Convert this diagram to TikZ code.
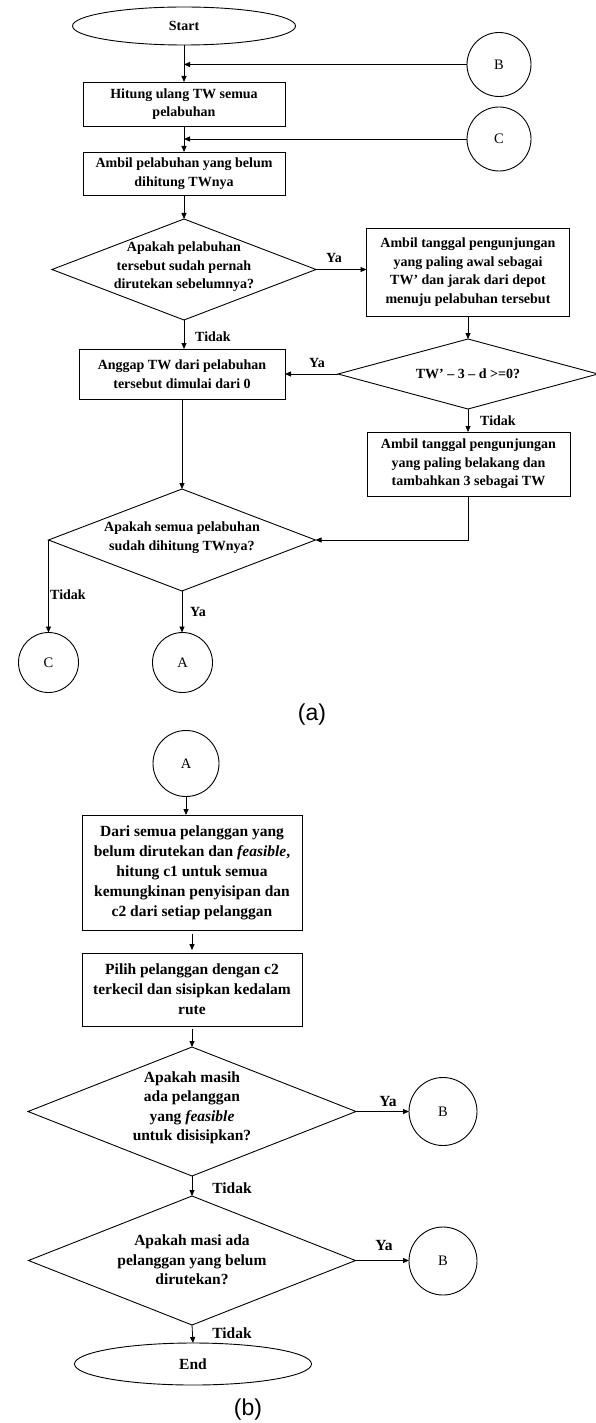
\documentclass[tikz,border=0pt]{standalone}
\usepackage{fontspec}
\setmainfont{Liberation Serif}
\newfontfamily\capfont{Liberation Sans}
\usetikzlibrary{shapes.geometric,arrows.meta}
\begin{document}
\begin{tikzpicture}[x=1pt,y=-1pt,
  every node/.style={inner sep=0pt, outer sep=0pt},
  arr/.style={line width=0.8pt,-{Triangle[length=6pt,width=5pt]}},
  box/.style={draw, line width=0.9pt, rectangle, align=center, font=\fontsize{14}{18.5}\selectfont\bfseries},
  boxb/.style={draw, line width=0.9pt, rectangle, align=center, font=\fontsize{15.5}{20}\selectfont\bfseries},
  dia/.style={draw, line width=0.9pt, diamond},
  dtext/.style={align=center, font=\fontsize{14}{18.5}\selectfont\bfseries},
  dtextb/.style={align=center, font=\fontsize{15.5}{19.5}\selectfont\bfseries},
  conn/.style={draw, line width=0.9pt, circle, font=\fontsize{14.5}{16}\selectfont},
  term/.style={draw, line width=0.9pt, ellipse},
  lab/.style={font=\fontsize{14}{16}\selectfont\bfseries},
  labb/.style={font=\fontsize{15.5}{18}\selectfont\bfseries},
  captxt/.style={font=\fontsize{23}{26}\selectfont\capfont},
]
\useasboundingbox (0,0) rectangle (596,1423);

% ---------- (a) ----------
\node[term, minimum width=223pt, minimum height=38pt, font=\fontsize{14}{16}\selectfont\bfseries] (start) at (184,26) {Start};
\node[conn, minimum size=64pt] (B1) at (499,64.5) {B};
\node[box, minimum width=202pt, minimum height=44pt] (hit) at (184,104) {Hitung ulang TW semua\\pelabuhan};
\node[conn, minimum size=64pt] (C1) at (499,139) {C};
\node[box, minimum width=202pt, minimum height=43pt] (amb) at (184,173.5) {Ambil pelabuhan yang belum\\dihitung TWnya};
\node[dia, minimum width=264pt, minimum height=101pt] (d1) at (184,269.5) {};
\node[dtext] (d1t) at (184,267) {Apakah pelabuhan\\tersebut sudah pernah\\dirutekan sebelumnya?};
\node[box, minimum width=203pt, minimum height=88pt] (tw) at (468,272) {Ambil tanggal pengunjungan\\yang paling awal sebagai\\TW’ dan jarak dari depot\\menuju pelabuhan tersebut};
\node[dia, minimum width=260pt, minimum height=70pt] (d2) at (468,374) {};
\node[dtext] (d2t) at (468,374) {TW’ – 3 – d >=0?};
\node[box, minimum width=206pt, minimum height=50pt] (ang) at (182,374) {Anggap TW dari pelabuhan\\tersebut dimulai dari 0};
\node[box, minimum width=203pt, minimum height=64pt] (bel) at (468.5,464) {Ambil tanggal pengunjungan\\yang paling belakang dan\\tambahkan 3 sebagai TW};
\node[dia, minimum width=267pt, minimum height=102pt] (d3) at (182,540) {};
\node[dtext] (d3t) at (182,537.5) {Apakah semua pelabuhan\\sudah dihitung TWnya?};
\node[conn, minimum size=60pt] (C2) at (48.5,662.5) {C};
\node[conn, minimum size=60pt] (A1) at (182.5,662.5) {A};
\node[captxt] (capa) at (312,715) {(a)};

\node[lab] (ya1) at (334,258) {Ya};
\node[lab] (ti1) at (213,337) {Tidak};
\node[lab] (ya2) at (317,363) {Ya};
\node[lab] (ti2) at (498,421) {Tidak};
\node[lab] (ti3) at (68,595) {Tidak};
\node[lab] (ya3) at (198,612) {Ya};

\draw[arr] (start.south) -- (hit.north);
\coordinate (jB) at (start.south |- B1.west);
\draw[arr] (B1.west) -- (jB);
\draw[arr] (hit.south) -- (amb.north);
\coordinate (jC) at (hit.south |- C1.west);
\draw[arr] (C1.west) -- (jC);
\draw[arr] (amb.south) -- (d1.north);
\draw[arr] (d1.east) -- (d1.east -| tw.west);
\draw[arr] (d1.south) -- (d1.south |- ang.north);
\draw[arr] (tw.south) -- (d2.north);
\draw[arr] (d2.west) -- (ang.east);
\draw[arr] (d2.south) -- (d2.south |- bel.north);
\draw[arr] (ang.south) -- (d3.north);
\draw[arr] (bel.south) |- (d3.east);
\draw[arr] (d3.west) -- (d3.west |- C2.north);
\draw[arr] (d3.south) -- (d3.south |- A1.north);

% ---------- (b) ----------
\node[conn, minimum size=66pt] (A2) at (186,763.5) {A};
\node[boxb, minimum width=220pt, minimum height=115pt] (dari) at (192,872.5) {Dari semua pelanggan yang\\belum dirutekan dan \textit{feasible},\\hitung c1 untuk semua\\kemungkinan penyisipan dan\\c2 dari setiap pelanggan};
\node[boxb, minimum width=220pt, minimum height=73pt] (pil) at (192,989.5) {Pilih pelanggan dengan c2\\terkecil dan sisipkan kedalam\\rute};
\node[dia, minimum width=328pt, minimum height=129pt] (d4) at (192,1111.5) {};
\node[dtextb] (d4t) at (192,1108) {Apakah masih\\ada pelanggan\\yang \textit{feasible}\\untuk disisipkan?};
\node[conn, minimum size=68pt] (B2) at (443,1111.5) {B};
\node[dia, minimum width=327pt, minimum height=129pt] (d5) at (192,1260.5) {};
\node[dtextb] (d5t) at (192,1260) {Apakah masi ada\\pelanggan yang belum\\dirutekan?};
\node[conn, minimum size=68pt] (B3) at (443,1261) {B};
\node[term, minimum width=237pt, minimum height=42pt, font=\fontsize{15.5}{18}\selectfont\bfseries] (end) at (193,1364) {End};
\node[captxt] (capb) at (248,1410) {(b)};

\node[labb] (ya4) at (388,1101) {Ya};
\node[labb] (ti4) at (232,1188) {Tidak};
\node[labb] (ya5) at (384,1245) {Ya};
\node[labb] (ti5) at (232,1333) {Tidak};

\draw[arr] (A2.south) -- (A2.south |- dari.north);
\draw[arr, shorten <=4pt, shorten >=3pt] (dari.south) -- (pil.north);
\draw[arr, shorten <=3pt] (pil.south) -- (d4.north);
\draw[arr] (d4.east) -- (d4.east -| B2.west);
\draw[arr] (d4.south) -- (d5.north);
\draw[arr] (d5.east) -- (d5.east -| B3.west);
\draw[arr] (d5.south) -- (end.north);
\end{tikzpicture}
\end{document}
